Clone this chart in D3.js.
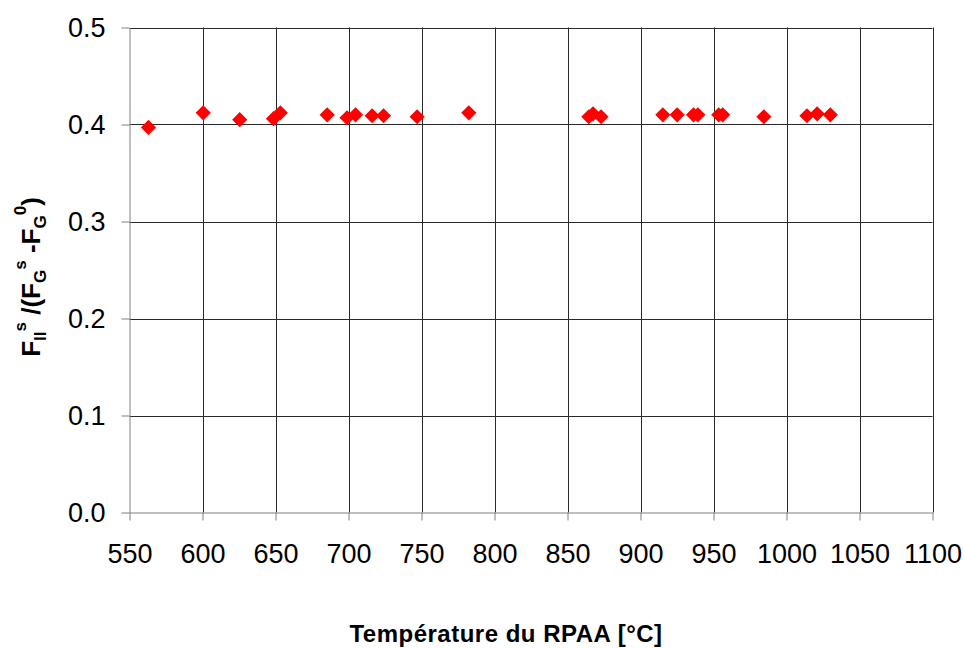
<!DOCTYPE html>
<html>
<head>
<meta charset="utf-8">
<script src="https://cdn.jsdelivr.net/npm/d3@7"></script>
<style>
  html, body { margin: 0; padding: 0; background: #fff; }
  svg { display: block; font-family: Arial, "Liberation Sans", sans-serif; }
</style>
</head>
<body>
<svg id="chart" width="964" height="648"></svg>
<script>
const temperatures = [563, 600.5, 625.5, 648.6, 653.3, 685.4, 699, 704.8, 716.2, 724, 747, 782.4,
  864.6, 867.5, 873, 915.3, 925.1, 936.3, 939.3, 953.6, 956.3, 984.5, 1014, 1021, 1030];
const ratios = [0.397, 0.412, 0.405, 0.406, 0.412, 0.410, 0.407, 0.410, 0.409, 0.409, 0.408, 0.412,
  0.408, 0.411, 0.408, 0.410, 0.410, 0.410, 0.410, 0.410, 0.410, 0.408, 0.409, 0.411, 0.410];
const xTicks = [550, 600, 650, 700, 750, 800, 850, 900, 950, 1000, 1050, 1100];
const yTicks = [0.0, 0.1, 0.2, 0.3, 0.4, 0.5];
const xTitle = "Température du RPAA [°C]";

const svg = d3.select("#chart");
const mLeft = 129.5, mRight = 932.5, mTop = 27.5, mBottom = 512.5;
const x = d3.scaleLinear().domain([550, 1100]).range([mLeft, mRight]);
const y = d3.scaleLinear().domain([0, 0.5]).range([mBottom, mTop]);

// gridlines
svg.append("g").selectAll("line").data(yTicks.filter(d => d > 0)).join("line")
  .attr("x1", mLeft).attr("x2", mRight)
  .attr("y1", d => Math.round(y(d)) + 0.5).attr("y2", d => Math.round(y(d)) + 0.5)
  .attr("stroke", "#2a2a2a").attr("stroke-width", 1);
svg.append("g").selectAll("line").data(xTicks.filter(d => d > 550)).join("line")
  .attr("x1", d => Math.round(x(d)) + 0.5).attr("x2", d => Math.round(x(d)) + 0.5)
  .attr("y1", mTop).attr("y2", mBottom)
  .attr("stroke", "#2a2a2a").attr("stroke-width", 1);

// axes
const xAxis = d3.axisBottom(x).tickValues(xTicks).tickSize(8).tickSizeOuter(0).tickFormat(d3.format("d"));
const yAxis = d3.axisLeft(y).tickValues(yTicks).tickSize(8).tickSizeOuter(0).tickFormat(d3.format(".1f"));

const gx = svg.append("g").attr("transform", `translate(0,${mBottom})`).call(xAxis);
const gy = svg.append("g").attr("transform", `translate(${mLeft},0)`).call(yAxis);
[gx, gy].forEach(g => {
  g.select(".domain").attr("stroke", "#808080").attr("stroke-width", 1);
  g.selectAll(".tick line").attr("stroke", "#808080");
  g.selectAll(".tick text").attr("fill", "#000").attr("font-size", 27)
    .attr("font-family", "Arial, 'Liberation Sans', sans-serif");
});
gx.selectAll(".tick text").attr("y", 0).attr("dy", null).attr("dominant-baseline", "central")
  .attr("transform", "translate(0,41)");
gy.selectAll(".tick text").attr("x", -24).attr("dy", null).attr("dominant-baseline", "central");

// points
const sym = d3.symbol().type(d3.symbolSquare).size(115);
svg.append("g").selectAll("path").data(temperatures.map((t, i) => [t, ratios[i]])).join("path")
  .attr("d", sym)
  .attr("transform", d => `translate(${x(d[0])},${y(d[1])}) rotate(45)`)
  .attr("fill", "#ff0000");

// x title
svg.append("text").attr("x", 506).attr("y", 642).attr("text-anchor", "middle")
  .attr("font-size", 24).attr("font-weight", "bold").attr("letter-spacing", 0.5)
  .text(xTitle);

// y title
const yt = svg.append("text").attr("transform", "translate(40,277) rotate(-90)")
  .attr("text-anchor", "middle").attr("font-size", 26).attr("font-weight", "bold");
const parts = [
  ["F", 0], ["II", 1], ["s", -1], [" /(F", 0], ["G", 1], ["s", -1], [" -F", 0], ["G", 1], ["0", -1], [")", 0]
];
let cur = 0;
parts.forEach(([t, k]) => {
  const target = k === 1 ? 6 : (k === -1 ? -14 : 0);
  const ts = yt.append("tspan").text(t).attr("dy", target - cur);
  if (k !== 0) ts.attr("font-size", 17);
  cur = target;
});
</script>
</body>
</html>
